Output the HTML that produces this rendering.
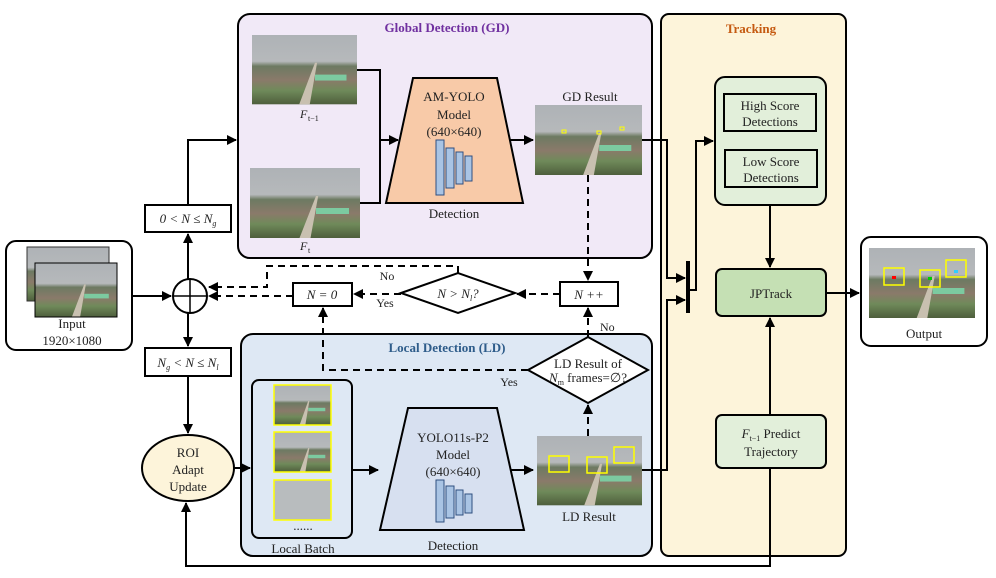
<!DOCTYPE html>
<html><head><meta charset="utf-8"><style>
body{margin:0;background:#fff}
svg text{font-family:"Liberation Serif",serif;fill:#222}
</style></head><body>
<svg width="996" height="573" viewBox="0 0 996 573" xmlns="http://www.w3.org/2000/svg">
<defs>
<marker id="a" markerWidth="10" markerHeight="10" refX="9" refY="5" orient="auto" markerUnits="userSpaceOnUse"><path d="M0,0 L10,5 L0,10z" fill="#000"/></marker>
<linearGradient id="ph" x1="0" y1="0" x2="0" y2="1">
<stop offset="0" stop-color="#aeb2b6"/><stop offset="0.38" stop-color="#b6b9bb"/><stop offset="0.45" stop-color="#6d7a62"/><stop offset="0.65" stop-color="#8a7a6a"/><stop offset="0.8" stop-color="#6f8a5a"/><stop offset="1" stop-color="#4e5e3c"/></linearGradient>
<g id="photo"><rect width="100" height="70" fill="url(#ph)"/><polygon points="45,70 55,70 62,28 60,28" fill="#c8c0b0"/><rect x="60" y="40" width="30" height="6" fill="#7ccaa0"/></g>
</defs>
<!-- panels -->
<rect x="238" y="14" width="414" height="244" rx="12" fill="#f1e9f7" stroke="#000" stroke-width="2"/>
<rect x="241" y="334" width="411" height="222" rx="12" fill="#dee8f4" stroke="#000" stroke-width="2"/>
<rect x="661" y="14" width="185" height="542" rx="8" fill="#fdf4da" stroke="#000" stroke-width="2"/>
<text x="447" y="32" font-size="13" font-weight="bold" text-anchor="middle" style="fill:#7030a0">Global Detection (GD)</text>
<text x="447" y="352" font-size="13" font-weight="bold" text-anchor="middle" style="fill:#2e5c8a">Local Detection (LD)</text>
<text x="751" y="33" font-size="13" font-weight="bold" text-anchor="middle" style="fill:#c55a11">Tracking</text>
<!-- input -->
<rect x="6" y="241" width="126" height="109" rx="10" fill="#fff" stroke="#000" stroke-width="2"/>
<use href="#photo" transform="translate(27,247) scale(0.82,0.77)"/>
<rect x="27" y="247" width="82" height="54" fill="none" stroke="#333"/>
<use href="#photo" transform="translate(35,263) scale(0.82,0.77)"/>
<rect x="35" y="263" width="82" height="54" fill="none" stroke="#000"/>
<text x="72" y="328" font-size="13" text-anchor="middle">Input</text>
<text x="72" y="345" font-size="13" text-anchor="middle">1920×1080</text>
<!-- output -->
<rect x="861" y="237" width="126" height="109" rx="10" fill="#fff" stroke="#000" stroke-width="2"/>
<use href="#photo" transform="translate(869,248) scale(1.06,1)"/>
<rect x="884" y="268" width="20" height="17" fill="none" stroke="#ff0" stroke-width="1.5"/><rect x="892" y="276" width="4" height="3" fill="red"/>
<rect x="920" y="270" width="20" height="17" fill="none" stroke="#ff0" stroke-width="1.5"/><rect x="928" y="277" width="4" height="3" fill="#0c0"/>
<rect x="946" y="260" width="20" height="17" fill="none" stroke="#ff0" stroke-width="1.5"/><rect x="954" y="270" width="4" height="3" fill="#3cf"/>
<text x="924" y="338" font-size="13" text-anchor="middle">Output</text>
<!-- GD content -->
<use href="#photo" transform="translate(252,35) scale(1.05,0.99)"/>
<text x="300" y="118" font-size="12" font-style="italic">F</text><text x="308" y="121" font-size="8">t−1</text>
<use href="#photo" transform="translate(250,168) scale(1.1,1)"/>
<text x="300" y="250" font-size="12" font-style="italic">F</text><text x="308" y="253" font-size="8">t</text>
<polyline points="357,70 380,70 380,203 360,203" fill="none" stroke="#000" stroke-width="2"/>
<line x1="380" y1="140" x2="398" y2="140" stroke="#000" stroke-width="2" marker-end="url(#a)"/>
<polygon points="413,78 497,78 523,203 386,203" fill="#f8caa8" stroke="#000" stroke-width="2"/>
<text x="454" y="101" font-size="13" text-anchor="middle">AM-YOLO</text>
<text x="454" y="119" font-size="13" text-anchor="middle">Model</text>
<text x="454" y="136" font-size="13" text-anchor="middle">(640×640)</text>
<g fill="#a9c4e4" stroke="#2f4f7f"><rect x="436" y="140" width="8" height="55"/><rect x="446" y="148" width="8" height="40"/><rect x="456" y="152" width="7" height="32"/><rect x="465" y="156" width="7" height="25"/></g>
<text x="454" y="218" font-size="13" text-anchor="middle">Detection</text>
<line x1="510" y1="140" x2="533" y2="140" stroke="#000" stroke-width="2" marker-end="url(#a)"/>
<use href="#photo" transform="translate(535,105) scale(1.07,1)"/>
<text x="590" y="101" font-size="13" text-anchor="middle">GD  Result</text>
<rect x="562" y="130" width="4" height="3" fill="none" stroke="#ff0"/><rect x="597" y="131" width="4" height="3" fill="none" stroke="#ff0"/><rect x="620" y="127" width="4" height="3" fill="none" stroke="#ff0"/>
<!-- LD content -->
<rect x="252" y="380" width="100" height="158" rx="7" fill="#dee8f4" stroke="#000" stroke-width="2"/>
<use href="#photo" transform="translate(274,385) scale(0.57,0.57)"/><rect x="274" y="385" width="57" height="40" fill="none" stroke="#ff0" stroke-width="1.5"/>
<use href="#photo" transform="translate(274,432) scale(0.57,0.57)"/><rect x="274" y="432" width="57" height="40" fill="none" stroke="#ff0" stroke-width="1.5"/>
<rect x="274" y="480" width="57" height="40" fill="#b8bcbe" stroke="#ff0" stroke-width="1.5"/>
<text x="303" y="530" font-size="13" text-anchor="middle">......</text>
<text x="303" y="553" font-size="13" text-anchor="middle">Local Batch</text>
<line x1="352" y1="470" x2="378" y2="470" stroke="#000" stroke-width="2" marker-end="url(#a)"/>
<polygon points="408,408 497,408 524,530 380,530" fill="#d7e0f0" stroke="#000" stroke-width="2"/>
<text x="453" y="442" font-size="13" text-anchor="middle">YOLO11s-P2</text>
<text x="453" y="459" font-size="13" text-anchor="middle">Model</text>
<text x="453" y="476" font-size="13" text-anchor="middle">(640×640)</text>
<g fill="#a9c4e4" stroke="#2f4f7f"><rect x="436" y="480" width="8" height="42"/><rect x="446" y="486" width="8" height="32"/><rect x="456" y="490" width="7" height="25"/><rect x="465" y="494" width="7" height="19"/></g>
<text x="453" y="550" font-size="13" text-anchor="middle">Detection</text>
<line x1="510" y1="470" x2="533" y2="470" stroke="#000" stroke-width="2" marker-end="url(#a)"/>
<use href="#photo" transform="translate(537,436) scale(1.05,0.99)"/>
<rect x="549" y="456" width="20" height="16" fill="none" stroke="#ff0" stroke-width="1.5"/>
<rect x="587" y="457" width="20" height="16" fill="none" stroke="#ff0" stroke-width="1.5"/>
<rect x="614" y="447" width="20" height="16" fill="none" stroke="#ff0" stroke-width="1.5"/>
<text x="589" y="521" font-size="13" text-anchor="middle">LD Result</text>
<!-- left flow -->
<circle cx="190" cy="296" r="17" fill="#fff" stroke="#000" stroke-width="2"/>
<line x1="173" y1="296" x2="207" y2="296" stroke="#000" stroke-width="1.5"/><line x1="190" y1="279" x2="190" y2="313" stroke="#000" stroke-width="1.5"/>
<line x1="132" y1="296" x2="171" y2="296" stroke="#000" stroke-width="2" marker-end="url(#a)"/>
<line x1="188" y1="279" x2="188" y2="234" stroke="#000" stroke-width="2" marker-end="url(#a)"/>
<polyline points="188,205 188,140 236,140" fill="none" stroke="#000" stroke-width="2" marker-end="url(#a)"/>
<rect x="145" y="205" width="86" height="27" fill="#fff" stroke="#000" stroke-width="2"/>
<text x="188" y="223" font-size="13" text-anchor="middle" font-style="italic">0 &lt; N ≤ N<tspan font-size="8" dy="3">g</tspan></text>
<line x1="188" y1="313" x2="188" y2="346" stroke="#000" stroke-width="2" marker-end="url(#a)"/>
<rect x="145" y="348" width="86" height="28" fill="#fff" stroke="#000" stroke-width="2"/>
<text x="188" y="367" font-size="13" text-anchor="middle" font-style="italic">N<tspan font-size="8" dy="3">g</tspan><tspan dy="-3"> &lt; N ≤ N</tspan><tspan font-size="8" dy="3">l</tspan></text>
<line x1="188" y1="376" x2="188" y2="433" stroke="#000" stroke-width="2" marker-end="url(#a)"/>
<ellipse cx="188" cy="468" rx="46" ry="33" fill="#fdf4da" stroke="#000" stroke-width="2"/>
<text x="188" y="457" font-size="13" text-anchor="middle">ROI</text>
<text x="188" y="474" font-size="13" text-anchor="middle">Adapt</text>
<text x="188" y="491" font-size="13" text-anchor="middle">Update</text>
<line x1="234" y1="468" x2="250" y2="468" stroke="#000" stroke-width="2" marker-end="url(#a)"/>
<!-- dashed control -->
<g stroke="#000" stroke-width="2" fill="none" stroke-dasharray="7,5">
<line x1="588" y1="175" x2="588" y2="280" marker-end="url(#a)"/>
<line x1="560" y1="294" x2="517" y2="294" marker-end="url(#a)"/>
<line x1="401" y1="294" x2="354" y2="294" marker-end="url(#a)"/>
<line x1="293" y1="296" x2="209" y2="296" marker-end="url(#a)"/>
<polyline points="458,273 458,266 267,266 267,287 209,287" marker-end="url(#a)"/>
<line x1="588" y1="337" x2="588" y2="308" marker-end="url(#a)"/>
<polyline points="528,370 323,370 323,308" marker-end="url(#a)"/>
</g>
<line x1="588" y1="436" x2="588" y2="405" stroke="#000" stroke-width="2" stroke-dasharray="7,5" marker-end="url(#a)"/>
<rect x="560" y="282" width="58" height="24" fill="#fff" stroke="#000" stroke-width="2"/>
<text x="589" y="299" font-size="13" text-anchor="middle" font-style="italic">N ++</text>
<polygon points="401,293 458,273 515,293 458,313" fill="#fff" stroke="#000" stroke-width="2"/>
<text x="458" y="298" font-size="13" text-anchor="middle" font-style="italic">N &gt; N<tspan font-size="8" dy="3">l</tspan><tspan dy="-3">?</tspan></text>
<rect x="293" y="283" width="59" height="23" fill="#fff" stroke="#000" stroke-width="2"/>
<text x="322" y="299" font-size="13" text-anchor="middle" font-style="italic">N = 0</text>
<text x="387" y="280" font-size="12" text-anchor="middle">No</text>
<text x="385" y="307" font-size="12" text-anchor="middle">Yes</text>
<text x="600" y="331" font-size="12">No</text>
<text x="509" y="386" font-size="12" text-anchor="middle">Yes</text>
<polygon points="528,370 588,337 648,370 588,403" fill="#fff" stroke="#000" stroke-width="2"/>
<text x="588" y="368" font-size="13" text-anchor="middle">LD Result of</text>
<text x="588" y="382" font-size="13" text-anchor="middle"><tspan font-style="italic">N</tspan><tspan font-size="8" dy="3">m</tspan><tspan dy="-3"> frames=∅?</tspan></text>
<!-- tracking -->
<polyline points="642,140 667,140 667,278 685,278" fill="none" stroke="#000" stroke-width="2" marker-end="url(#a)"/>
<polyline points="642,470 667,470 667,300 685,300" fill="none" stroke="#000" stroke-width="2" marker-end="url(#a)"/>
<rect x="686" y="261" width="4" height="52" fill="#000"/>
<polyline points="690,290 696,290 696,141 713,141" fill="none" stroke="#000" stroke-width="2" marker-end="url(#a)"/>
<rect x="715" y="77" width="111" height="128" rx="10" fill="#e2efda" stroke="#000" stroke-width="2"/>
<rect x="724" y="94" width="92" height="37" fill="#e2efda" stroke="#000" stroke-width="2"/>
<text x="770" y="110" font-size="13" text-anchor="middle">High Score</text>
<text x="770" y="126" font-size="13" text-anchor="middle">Detections</text>
<rect x="725" y="150" width="92" height="37" fill="#e2efda" stroke="#000" stroke-width="2"/>
<text x="771" y="166" font-size="13" text-anchor="middle">Low Score</text>
<text x="771" y="182" font-size="13" text-anchor="middle">Detections</text>
<line x1="770" y1="205" x2="770" y2="267" stroke="#000" stroke-width="2" marker-end="url(#a)"/>
<rect x="716" y="269" width="110" height="47" rx="6" fill="#c5e0b4" stroke="#000" stroke-width="2"/>
<text x="771" y="298" font-size="13" text-anchor="middle">JPTrack</text>
<line x1="826" y1="293" x2="859" y2="293" stroke="#000" stroke-width="2" marker-end="url(#a)"/>
<line x1="770" y1="415" x2="770" y2="318" stroke="#000" stroke-width="2" marker-end="url(#a)"/>
<rect x="716" y="415" width="110" height="53" rx="6" fill="#e2efda" stroke="#000" stroke-width="2"/>
<text x="771" y="438" font-size="13" text-anchor="middle"><tspan font-style="italic">F</tspan><tspan font-size="8" dy="3">t−1</tspan><tspan dy="-3"> Predict</tspan></text>
<text x="771" y="456" font-size="13" text-anchor="middle">Trajectory</text>
<polyline points="770,468 770,566 186,566 186,503" fill="none" stroke="#000" stroke-width="2" marker-end="url(#a)"/>
</svg>
</body></html>
